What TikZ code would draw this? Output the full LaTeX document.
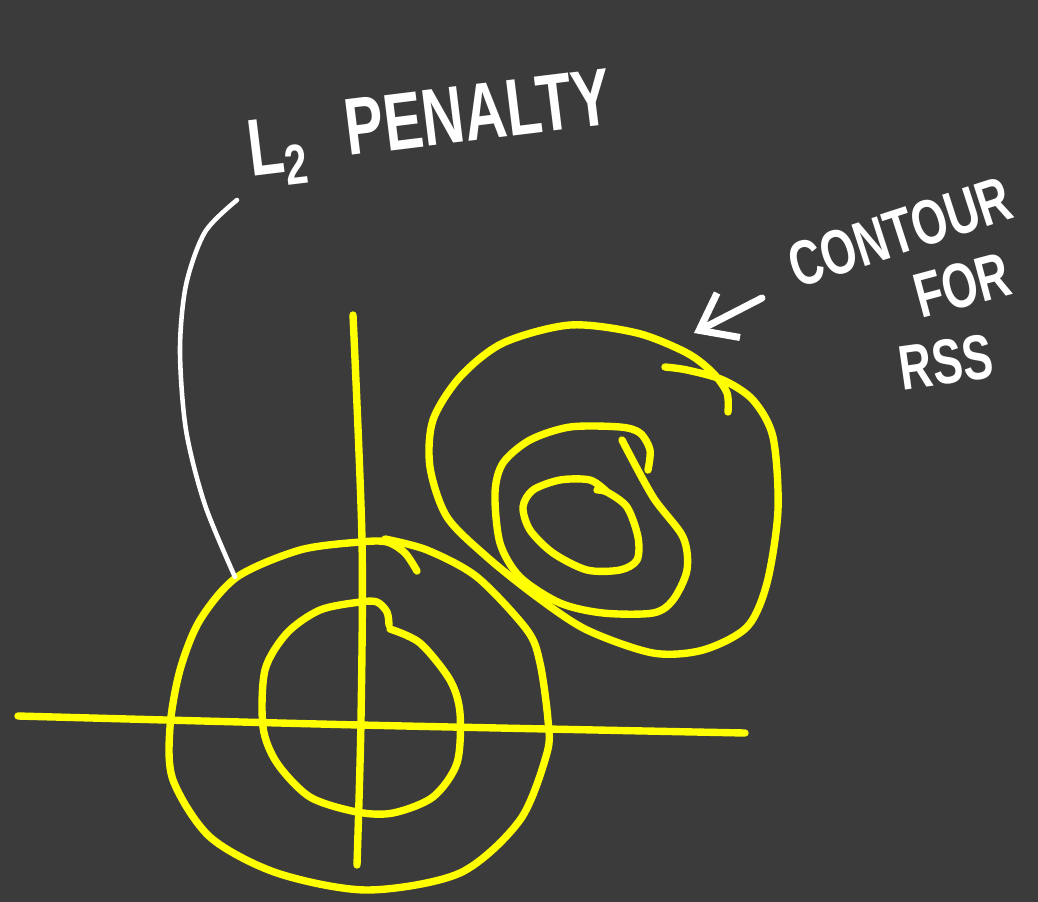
\documentclass[tikz,border=0pt]{standalone}
\usepackage{fontspec}
\setmainfont{Liberation Sans}
\usepackage{tikz}
\usetikzlibrary{arrows.meta}
\definecolor{board}{HTML}{3B3B3B}
\definecolor{chalk}{HTML}{FFFFFF}
\definecolor{marker}{HTML}{FFFF00}
\newcommand{\narrow}[1]{\scalebox{0.72}[1]{#1}}

\begin{document}
\begin{tikzpicture}[x=0.01cm, y=-0.01cm, line cap=round, line join=round,
  pen/.style={marker, line width=2.1pt},
  chalkline/.style={chalk, line width=1.3pt},
  pointer/.style={-{Straight Barb[length=3.3mm, width=5mm]}, chalk, line width=2pt},
  bigtag/.style={text=chalk, inner sep=0pt, font=\bfseries\fontsize{23}{26}\selectfont},
  tag/.style={text=chalk, inner sep=0pt, font=\bfseries\fontsize{18}{21}\selectfont}]

\fill[board] (0,0) rectangle (1038,902);
\useasboundingbox (0,0) rectangle (1038,902);

% ================================================================ axes
\draw[pen] plot[smooth] coordinates {(18,716) (360,725) (745,733)};
\draw[pen] plot[smooth] coordinates {(353,315) (362,540) (361,720) (357,865)};

% ================================================================ L2 ball
\draw[pen] plot[smooth] coordinates {(417,571) (405,553) (387,542) (360,542) (300,550)
  (237,577) (200,620) (180,670) (170,727) (173,780) (210,837) (277,873) (367,890)
  (460,873) (520,820) (547,753) (548,720) (540,663) (527,630) (477,577) (427,550)
  (385,539)};
\draw[pen] plot[smooth] coordinates {(389,625) (387,612) (377,602) (360,602) (320,610)
  (287,633) (265,670) (263,727) (277,763) (310,797) (357,812) (393,813) (433,797)
  (457,763) (460,713) (450,680) (420,643) (390,629)};

% ================================================================ RSS contours
\draw[pen] plot[smooth] coordinates {(728,412) (727,393) (713,373) (687,353) (637,333)
  (570,325) (503,343) (460,377) (433,420) (430,467) (447,517) (487,557) (537,597)
  (587,630) (653,653) (703,650) (747,627) (767,583) (778,510) (773,437) (753,400)
  (723,380) (687,370) (665,367)};
\draw[pen] plot[smooth] coordinates {(622,440) (653,497) (683,537) (687,570) (673,600)
  (653,613) (603,613) (560,603) (520,577) (500,543) (495,493) (503,463) (530,440)
  (570,427) (620,427) (640,433) (650,450) (648,470)};
\draw[pen] plot[smooth] coordinates {(597,490) (607,492) (627,507) (638,537) (637,560)
  (620,570) (587,570) (553,553) (530,530) (523,507) (533,490) (560,480) (590,480)
  (607,492)};

% ================================================================ labels
\node[bigtag, rotate=7] (l2) at (278,152) {\narrow{L\textsubscript{2}}};
\node[bigtag, rotate=7] (penalty) at (478,112) {\narrow{PENALTY}};
\node[tag, rotate=18] (contourlbl) at (900,232) {\narrow{CONTOUR}};
\node[tag, rotate=15] (forlbl) at (962,285) {\narrow{FOR}};
\node[tag, rotate=8] (rsslbl) at (946,362) {\narrow{RSS}};

\coordinate (penaltytail) at (237,200);
\coordinate (penaltyhead) at (235,577);
\draw[chalkline] plot[smooth] coordinates {(penaltytail) (205,232) (186,285) (180,350)
  (186,430) (205,505) (penaltyhead)};

\coordinate (rsstail) at (762,298);
\coordinate (rsstip) at (694,333);
\draw[pointer] (rsstail) -- (rsstip);

\end{tikzpicture}
\end{document}
